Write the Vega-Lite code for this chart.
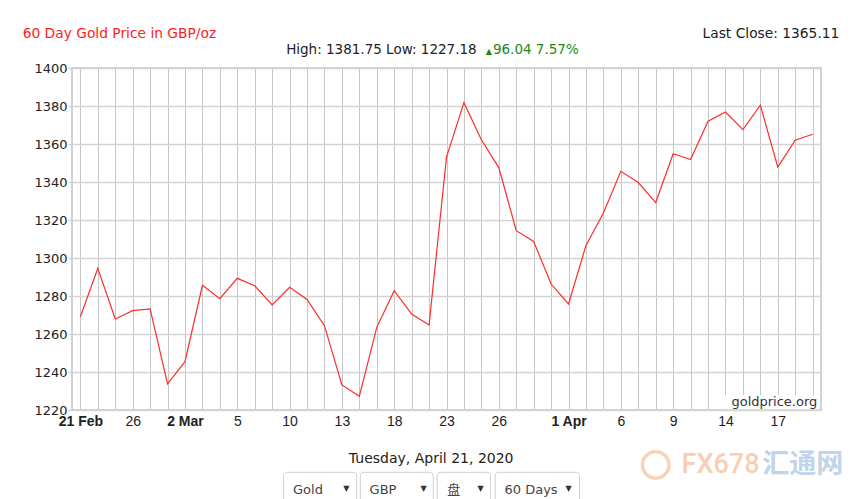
{
  "$schema": "https://vega.github.io/schema/vega-lite/v6.json",
  "width": 749,
  "height": 342,
  "autosize": "none",
  "padding": {"left": 72, "top": 68, "right": 39, "bottom": 89},
  "background": "white",
  "config": {
    "view": {"stroke": "#c4c4c4", "strokeWidth": 1.5},
    "axisY": {
      "tickCount": 9, "format": "d", "labelOverlap": false, "labelBound": false, "labelFlush": false,
      "domain": false, "ticks": true, "tickSize": 4, "tickColor": "#cccccc",
      "grid": true, "gridColor": "#d4d4d4", "gridWidth": 1.5,
      "labelFont": "DejaVu Sans", "labelFontSize": 13, "labelColor": "#222", "labelPadding": 1
    },
    "axisX": {
      "titleFont": "DejaVu Sans", "titleFontSize": 14, "titleFontWeight": "normal", "titleColor": "#222",
      "titleX": 358.7, "titleY": 48.3, "titleBaseline": "middle", "titleAlign": "center",
      "domain": false, "ticks": false, "grid": true, "gridColor": "#c6c6c6", "gridWidth": 1,
      "labelAngle": 0, "labelFont": "Liberation Sans", "labelFontSize": 14, "labelColor": "#222",
      "labelBaseline": "top", "labelPadding": 4, "labelOverlap": false, "labelFlush": false, "labelBound": false,
      "labelFontWeight": {"condition": {"test": "indexof(['2020-02-21','2020-03-02','2020-04-01'], datum.value) >= 0", "value": "bold"}, "value": "normal"},
      "labelExpr": "datum.value == '2020-02-21' ? '21 Feb' : datum.value == '2020-03-02' ? '2 Mar' : datum.value == '2020-04-01' ? '1 Apr' : indexof(['2020-02-26','2020-03-05','2020-03-10','2020-03-13','2020-03-18','2020-03-23','2020-03-26','2020-04-06','2020-04-09','2020-04-14','2020-04-17'], datum.value) >= 0 ? '' + toNumber(slice(datum.value, 8)) : ''"
    }
  },
  "datasets": {
    "gold": [
      {"date": "2020-02-21", "price": 1269.07},
      {"date": "2020-02-24", "price": 1294.6},
      {"date": "2020-02-25", "price": 1267.9},
      {"date": "2020-02-26", "price": 1272.3},
      {"date": "2020-02-27", "price": 1273.2},
      {"date": "2020-02-28", "price": 1233.7},
      {"date": "2020-03-02", "price": 1245.4},
      {"date": "2020-03-03", "price": 1285.6},
      {"date": "2020-03-04", "price": 1278.6},
      {"date": "2020-03-05", "price": 1289.3},
      {"date": "2020-03-06", "price": 1285.4},
      {"date": "2020-03-09", "price": 1275.3},
      {"date": "2020-03-10", "price": 1284.6},
      {"date": "2020-03-11", "price": 1278.2},
      {"date": "2020-03-12", "price": 1264.4},
      {"date": "2020-03-13", "price": 1233.2},
      {"date": "2020-03-16", "price": 1227.18},
      {"date": "2020-03-17", "price": 1263.5},
      {"date": "2020-03-18", "price": 1282.8},
      {"date": "2020-03-19", "price": 1270.5},
      {"date": "2020-03-20", "price": 1264.7},
      {"date": "2020-03-23", "price": 1353.1},
      {"date": "2020-03-24", "price": 1381.75},
      {"date": "2020-03-25", "price": 1362.2},
      {"date": "2020-03-26", "price": 1347.6},
      {"date": "2020-03-27", "price": 1314.4},
      {"date": "2020-03-30", "price": 1308.7},
      {"date": "2020-03-31", "price": 1286.3},
      {"date": "2020-04-01", "price": 1275.8},
      {"date": "2020-04-02", "price": 1306.6},
      {"date": "2020-04-03", "price": 1323.7},
      {"date": "2020-04-06", "price": 1345.6},
      {"date": "2020-04-07", "price": 1339.7},
      {"date": "2020-04-08", "price": 1329.2},
      {"date": "2020-04-09", "price": 1354.9},
      {"date": "2020-04-10", "price": 1351.8},
      {"date": "2020-04-13", "price": 1372.0},
      {"date": "2020-04-14", "price": 1376.8},
      {"date": "2020-04-15", "price": 1367.6},
      {"date": "2020-04-16", "price": 1380.4},
      {"date": "2020-04-17", "price": 1347.9},
      {"date": "2020-04-20", "price": 1362.0},
      {"date": "2020-04-21", "price": 1365.11}
    ]
  },
  "layer": [
    {
      "data": {"name": "gold"},
      "mark": {"type": "line", "color": "#ff2b2b", "strokeWidth": 1.2},
      "encoding": {
        "x": {"field": "date", "type": "ordinal", "title": "Tuesday, April 21, 2020", "scale": {"type": "point", "padding": 0.48}},
        "y": {"field": "price", "type": "quantitative", "title": null, "scale": {"domain": [1220, 1400], "nice": false, "zero": false}}
      }
    },
    {
      "data": {"values": [{}]},
      "mark": {"type": "rect", "fill": "white", "xOffset": -2, "x2Offset": 7},
      "encoding": {
        "x": {"datum": "2020-04-14", "type": "ordinal"},
        "x2": {"datum": "2020-04-21"},
        "y": {"datum": 1220.4, "type": "quantitative"},
        "y2": {"datum": 1227.7}
      }
    },
    {
      "data": {"values": [{}]},
      "mark": {"type": "text", "text": "goldprice.org", "font": "DejaVu Sans", "fontSize": 13, "color": "#333", "align": "right", "baseline": "middle", "dx": 4.7},
      "encoding": {"x": {"datum": "2020-04-21", "type": "ordinal"}, "y": {"datum": 1224.3, "type": "quantitative"}}
    },
    {
      "data": {"values": [{}]},
      "mark": {"type": "text", "text": "60 Day Gold Price in GBP/oz", "font": "DejaVu Sans", "fontSize": 13.8, "color": "#ff2020", "align": "left", "baseline": "middle", "dx": -57.7},
      "encoding": {"x": {"datum": "2020-02-21", "type": "ordinal"}, "y": {"datum": 1417.7, "type": "quantitative"}}
    },
    {
      "data": {"values": [{}]},
      "mark": {"type": "text", "text": "Last Close: 1365.11", "font": "DejaVu Sans", "fontSize": 13.8, "color": "#222", "align": "right", "baseline": "middle", "dx": 26.7},
      "encoding": {"x": {"datum": "2020-04-21", "type": "ordinal"}, "y": {"datum": 1417.7, "type": "quantitative"}}
    },
    {
      "data": {"values": [{}]},
      "mark": {"type": "text", "text": "High: 1381.75 Low: 1227.18", "font": "DejaVu Sans", "fontSize": 13.5, "color": "#222", "align": "right", "baseline": "middle", "dx": 12.7},
      "encoding": {"x": {"datum": "2020-03-24", "type": "ordinal"}, "y": {"datum": 1409.6, "type": "quantitative"}}
    },
    {
      "data": {"values": [{}]},
      "mark": {"type": "text", "text": "▲", "font": "DejaVu Sans", "fontSize": 8, "color": "#1a8a1a", "align": "left", "baseline": "middle", "dx": 21.7},
      "encoding": {"x": {"datum": "2020-03-24", "type": "ordinal"}, "y": {"datum": 1408.6, "type": "quantitative"}}
    },
    {
      "data": {"values": [{}]},
      "mark": {"type": "text", "text": "96.04 7.57%", "font": "DejaVu Sans", "fontSize": 13.5, "color": "#1a8a1a", "align": "left", "baseline": "middle", "dx": 29},
      "encoding": {"x": {"datum": "2020-03-24", "type": "ordinal"}, "y": {"datum": 1409.6, "type": "quantitative"}}
    },
    {
      "data": {"values": [{}]},
      "mark": {"type": "rect", "fill": "white", "stroke": "#cfcfcf", "cornerRadius": 3, "xOffset": -6, "x2Offset": -2.7},
      "encoding": {"x": {"datum": "2020-03-10", "type": "ordinal"}, "x2": {"datum": "2020-03-16"}, "y": {"datum": 1187.2, "type": "quantitative"}, "y2": {"datum": 1168}}
    },
    {
      "data": {"values": [{}]},
      "mark": {"type": "rect", "fill": "white", "stroke": "#cfcfcf", "cornerRadius": 3, "xOffset": 1, "x2Offset": 4.2},
      "encoding": {"x": {"datum": "2020-03-16", "type": "ordinal"}, "x2": {"datum": "2020-03-20"}, "y": {"datum": 1187.2, "type": "quantitative"}, "y2": {"datum": 1168}}
    },
    {
      "data": {"values": [{}]},
      "mark": {"type": "rect", "fill": "white", "stroke": "#cfcfcf", "cornerRadius": 3, "xOffset": -9.4, "x2Offset": -8.3},
      "encoding": {"x": {"datum": "2020-03-23", "type": "ordinal"}, "x2": {"datum": "2020-03-26"}, "y": {"datum": 1187.2, "type": "quantitative"}, "y2": {"datum": 1168}}
    },
    {
      "data": {"values": [{}]},
      "mark": {"type": "rect", "fill": "white", "stroke": "#cfcfcf", "cornerRadius": 3, "xOffset": -3.6, "x2Offset": -6.5},
      "encoding": {"x": {"datum": "2020-03-26", "type": "ordinal"}, "x2": {"datum": "2020-04-02"}, "y": {"datum": 1187.2, "type": "quantitative"}, "y2": {"datum": 1168}}
    },
    {
      "data": {"values": [{}]},
      "mark": {"type": "text", "text": "Gold", "font": "DejaVu Sans", "fontSize": 13, "color": "#444", "align": "left", "baseline": "middle", "dx": 3.4},
      "encoding": {"x": {"datum": "2020-03-10", "type": "ordinal"}, "y": {"datum": 1177.7, "type": "quantitative"}}
    },
    {
      "data": {"values": [{}]},
      "mark": {"type": "text", "text": "GBP", "font": "DejaVu Sans", "fontSize": 13, "color": "#444", "align": "left", "baseline": "middle", "dx": -7.2},
      "encoding": {"x": {"datum": "2020-03-17", "type": "ordinal"}, "y": {"datum": 1177.7, "type": "quantitative"}}
    },
    {
      "data": {"values": [{}]},
      "mark": {"type": "text", "text": "盘", "font": "Noto Sans CJK SC", "fontSize": 13, "color": "#444", "align": "left", "baseline": "middle", "dx": 0.8},
      "encoding": {"x": {"datum": "2020-03-23", "type": "ordinal"}, "y": {"datum": 1177.7, "type": "quantitative"}}
    },
    {
      "data": {"values": [{}]},
      "mark": {"type": "text", "text": "60 Days", "font": "DejaVu Sans", "fontSize": 13, "color": "#444", "align": "left", "baseline": "middle", "dx": 5.7},
      "encoding": {"x": {"datum": "2020-03-26", "type": "ordinal"}, "y": {"datum": 1177.7, "type": "quantitative"}}
    },
    {
      "data": {"values": [{}]},
      "mark": {"type": "text", "text": "▼", "font": "DejaVu Sans", "fontSize": 8, "color": "#333", "align": "left", "baseline": "middle", "dx": 1.4},
      "encoding": {"x": {"datum": "2020-03-13", "type": "ordinal"}, "y": {"datum": 1178.2, "type": "quantitative"}}
    },
    {
      "data": {"values": [{}]},
      "mark": {"type": "text", "text": "▼", "font": "DejaVu Sans", "fontSize": 8, "color": "#333", "align": "left", "baseline": "middle", "dx": -8.5},
      "encoding": {"x": {"datum": "2020-03-20", "type": "ordinal"}, "y": {"datum": 1178.2, "type": "quantitative"}}
    },
    {
      "data": {"values": [{}]},
      "mark": {"type": "text", "text": "▼", "font": "DejaVu Sans", "fontSize": 8, "color": "#333", "align": "left", "baseline": "middle", "dx": -3.8},
      "encoding": {"x": {"datum": "2020-03-25", "type": "ordinal"}, "y": {"datum": 1178.2, "type": "quantitative"}}
    },
    {
      "data": {"values": [{}]},
      "mark": {"type": "text", "text": "▼", "font": "DejaVu Sans", "fontSize": 8, "color": "#333", "align": "left", "baseline": "middle", "dx": -3},
      "encoding": {"x": {"datum": "2020-04-01", "type": "ordinal"}, "y": {"datum": 1178.2, "type": "quantitative"}}
    },
    {
      "data": {"values": [{}]},
      "mark": {"type": "point", "shape": "circle", "size": 700, "filled": false, "stroke": "#f6c9a6", "strokeWidth": 3.5, "opacity": 0.8},
      "encoding": {"x": {"datum": "2020-04-08", "type": "ordinal"}, "y": {"datum": 1191.1, "type": "quantitative"}}
    },
    {
      "data": {"values": [{}]},
      "mark": {"type": "text", "text": "FX678", "font": "Roboto", "fontSize": 27, "fontWeight": 500, "color": "#f8c6a6", "opacity": 0.85, "align": "left", "baseline": "middle", "dx": -9},
      "encoding": {"x": {"datum": "2020-04-10", "type": "ordinal"}, "y": {"datum": 1191.1, "type": "quantitative"}}
    },
    {
      "data": {"values": [{}]},
      "mark": {"type": "text", "text": "汇通网", "font": "Noto Sans CJK SC", "fontSize": 27, "fontWeight": "bold", "color": "#bcd0e8", "opacity": 0.9, "align": "left", "baseline": "middle", "dx": 2},
      "encoding": {"x": {"datum": "2020-04-16", "type": "ordinal"}, "y": {"datum": 1191.1, "type": "quantitative"}}
    }
  ]
}
